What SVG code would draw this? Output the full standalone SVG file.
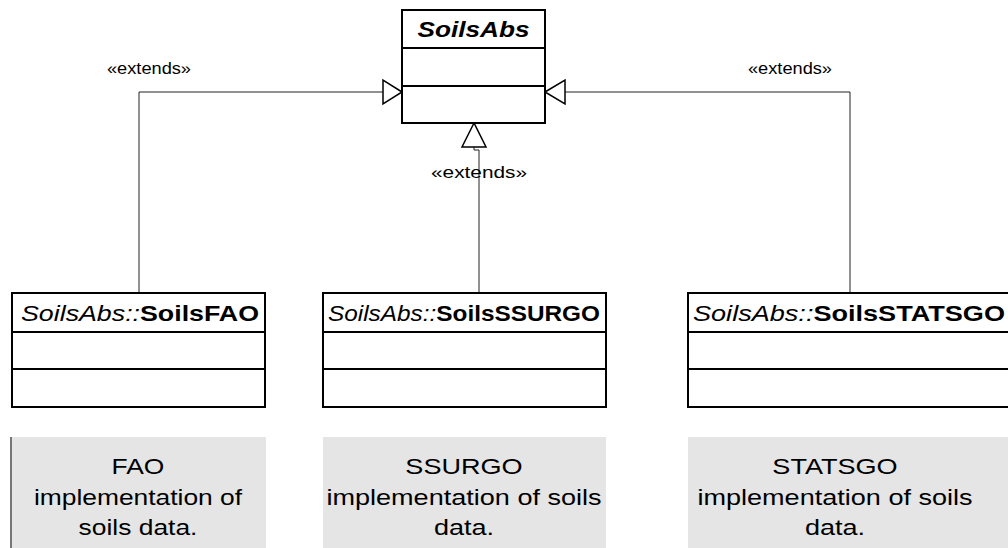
<svg xmlns="http://www.w3.org/2000/svg" width="1008" height="548" viewBox="0 0 1008 548">
<defs>
<style>
.box{fill:#fff;stroke:#000;stroke-width:2}
.div{stroke:#000;stroke-width:2}
.conn{fill:none;stroke:#222;stroke-width:1}
.tri{fill:#fff;stroke:#000;stroke-width:1.5}
.note{fill:#e5e5e5}
.nb{stroke:#777;stroke-width:2}
text{font-family:"Liberation Sans",Arial,sans-serif;fill:#000}
.title{font-size:22px}
.it{font-style:italic}
.bd{font-weight:bold}
.lbl{font-size:16px}
.nt{font-size:22px;text-anchor:middle}
</style>
</defs>
<rect width="1008" height="548" fill="#fff"/>
<g id="connectors">
<polyline class="conn" points="139,293 139,92 383,92"/>
<polygon class="tri" points="402,92 383,80 383,104"/>
<polyline class="conn" points="850,293 850,92 565,92"/>
<polygon class="tri" points="545,92 565,80 565,104"/>
<polyline class="conn" points="479,293 479,150 474,150 474,147"/>
<polygon class="tri" points="474,123 462,147 486,147"/>
<text class="lbl" x="149" y="74" text-anchor="middle" textLength="84" lengthAdjust="spacingAndGlyphs">«extends»</text>
<text class="lbl" x="790" y="74" text-anchor="middle" textLength="84" lengthAdjust="spacingAndGlyphs">«extends»</text>
<text class="lbl" x="479" y="178" text-anchor="middle" textLength="96" lengthAdjust="spacingAndGlyphs">«extends»</text>
</g>
<g id="SoilsAbs">
<rect class="box" x="402" y="10" width="143" height="113"/>
<line class="div" x1="402" y1="48" x2="545" y2="48"/>
<line class="div" x1="402" y1="86" x2="545" y2="86"/>
<text class="title it bd" x="473.5" y="37" text-anchor="middle" textLength="112" lengthAdjust="spacingAndGlyphs">SoilsAbs</text>
</g>
<g id="SoilsFAO">
<rect class="box" x="12" y="293" width="253" height="114"/>
<line class="div" x1="12" y1="332" x2="265" y2="332"/>
<line class="div" x1="12" y1="369" x2="265" y2="369"/>
<text class="title" x="140" y="320.5" text-anchor="middle" textLength="238" lengthAdjust="spacingAndGlyphs"><tspan class="it">SoilsAbs::</tspan><tspan class="bd">SoilsFAO</tspan></text>
</g>
<g id="SoilsSSURGO">
<rect class="box" x="323" y="293" width="283" height="114"/>
<line class="div" x1="323" y1="332" x2="606" y2="332"/>
<line class="div" x1="323" y1="369" x2="606" y2="369"/>
<text class="title" x="464" y="320.5" text-anchor="middle" textLength="272" lengthAdjust="spacingAndGlyphs"><tspan class="it">SoilsAbs::</tspan><tspan class="bd">SoilsSSURGO</tspan></text>
</g>
<g id="SoilsSTATSGO">
<rect class="box" x="688" y="293" width="330" height="114"/>
<line class="div" x1="688" y1="332" x2="1018" y2="332"/>
<line class="div" x1="688" y1="369" x2="1018" y2="369"/>
<text class="title" x="849" y="320.5" text-anchor="middle" textLength="312" lengthAdjust="spacingAndGlyphs"><tspan class="it">SoilsAbs::</tspan><tspan class="bd">SoilsSTATSGO</tspan></text>
</g>
<g id="noteFAO">
<rect class="note" x="10" y="437" width="256" height="111"/>
<line class="nb" x1="11" y1="437" x2="11" y2="548"/>
<g transform="translate(138,0) scale(1.2,1)">
<text class="nt" x="0" y="474">FAO</text>
<text class="nt" x="0" y="505">implementation of</text>
<text class="nt" x="0" y="535">soils data.</text>
</g>
</g>
<g id="noteSSURGO">
<rect class="note" x="323" y="437" width="283" height="111"/>
<g transform="translate(464,0) scale(1.23,1)">
<text class="nt" x="0" y="474">SSURGO</text>
<text class="nt" x="0" y="505">implementation of soils</text>
<text class="nt" x="0" y="535">data.</text>
</g>
</g>
<g id="noteSTATSGO">
<rect class="note" x="688" y="437" width="320" height="111"/>
<g transform="translate(835,0) scale(1.23,1)">
<text class="nt" x="0" y="474">STATSGO</text>
<text class="nt" x="0" y="505">implementation of soils</text>
<text class="nt" x="0" y="535">data.</text>
</g>
</g>
</svg>
